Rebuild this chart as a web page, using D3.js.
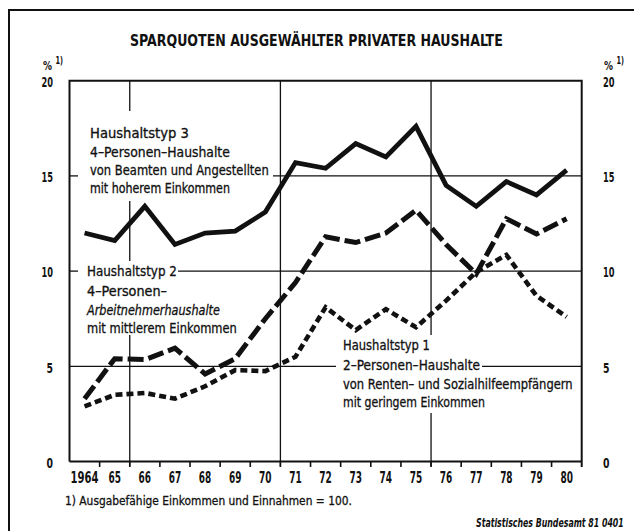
<!DOCTYPE html>
<html>
<head>
<meta charset="utf-8">
<script src="https://cdn.jsdelivr.net/npm/d3@7/dist/d3.min.js"></script>
<style>
  html, body { margin: 0; padding: 0; background: #fff; }
  svg { display: block; }
  text { fill: #111; }
</style>
</head>
<body>
<script>
// Sparquoten (savings ratios) of three household types, 1964–1980, in % of disposable income
const years = [1964,1965,1966,1967,1968,1969,1970,1971,1972,1973,1974,1975,1976,1977,1978,1979,1980];
const yearLabels = ["1964","65","66","67","68","69","70","71","72","73","74","75","76","77","78","79","80"];
const typ3 = [12.0,11.6,13.4,11.4,12.0,12.1,13.1,15.7,15.4,16.7,16.0,17.6,14.5,13.4,14.7,14.0,15.3];
const typ2 = [3.3,5.4,5.35,5.95,4.6,5.4,7.5,9.4,11.8,11.5,12.0,13.2,11.4,9.85,12.75,11.95,12.75];
const typ1 = [2.9,3.5,3.6,3.3,3.95,4.8,4.75,5.5,8.1,6.9,8.0,7.05,8.45,9.95,10.85,8.7,7.6];
const yTicks = [0,5,10,15,20];

const title = "SPARQUOTEN AUSGEWÄHLTER PRIVATER HAUSHALTE";
const labelTyp3 = ["Haushaltstyp 3","4–Personen–Haushalte","von Beamten und Angestellten","mit hoherem Einkommen"];
const labelTyp2 = ["Haushaltstyp 2","4–Personen–","Arbeitnehmerhaushalte","mit mittlerem  Einkommen"];
const labelTyp1 = ["Haushaltstyp 1","2–Personen–Haushalte","von Renten– und Sozialhilfeempfängern","mit geringem Einkommen"];
const footnote = "1) Ausgabefähige Einkommen und Einnahmen = 100.";
const source = "Statistisches Bundesamt 81 0401";

const W = 634, H = 531;
const FONT = "'Liberation Sans Narrow','DejaVu Sans Condensed','Roboto Condensed','Arial Narrow',sans-serif";
const INK = "#111";

const svg = d3.select("body").append("svg")
  .attr("width", W).attr("height", H)
  .style("font-family", FONT);

svg.append("rect").attr("width", W).attr("height", H).attr("fill", "#fff");

// plot frame
const L = 69.5, R = 581.7, T = 80.7, B = 461.5;

const x = d3.scaleBand().domain(years).range([L, R]).paddingInner(0).paddingOuter(0);
const y = d3.scaleLinear().domain([0, 20]).range([B, T]);
const cx = d => x(d) + x.bandwidth() / 2;

// slightly heavier print for text
const ink = sel => sel.attr("stroke", INK).attr("stroke-width", 0.3);

// squeeze a text horizontally to a given width (condensed type), keeping its anchor point
function fit(sel, widthFn) {
  sel.each(function (d, i) {
    const w = typeof widthFn === "function" ? widthFn(d, i) : widthFn;
    const n = this.getComputedTextLength();
    const base = this.getAttribute("transform") || "";
    this.setAttribute("transform", `${base} scale(${w / n},1)`);
  });
}

// place a text at (px, py) and condense it to width w
function label(str, px, py, w, size, opts = {}) {
  const t = svg.append("text")
    .attr("transform", `translate(${px},${py})`)
    .style("font-size", size + "px")
    .style("font-weight", opts.bold ? "bold" : "normal")
    .style("font-style", opts.italic ? "italic" : "normal")
    .text(str);
  if (opts.heavy) t.call(ink);
  fit(t, w);
  return t;
}

// page frame: left and top rules
svg.append("path")
  .attr("d", `M9,${H} V10 H${W}`)
  .attr("fill", "none").attr("stroke", INK).attr("stroke-width", 2);

// title
label(title, 130, 46, 373, 15, { bold: true });

// grid segments (interrupted where the series labels sit)
const grid = svg.append("g").attr("stroke", INK).attr("stroke-width", 1.3).attr("fill", "none");
const hSeg = [
  [15, L, 78], [15, 273, R],
  [10, L, 78], [10, 178, R],
  [5, L, 336], [5, 482, R]
];
hSeg.forEach(([v, x1, x2]) => {
  grid.append("line").attr("x1", x1).attr("x2", x2).attr("y1", y(v)).attr("y2", y(v));
});
const vSeg = [
  [1966, T, 111], [1966, 201, 261], [1966, 335, B + 5],
  [1971, T, B + 5],
  [1976, T, 335], [1976, 413, B + 5]
];
vSeg.forEach(([yr, y1, y2]) => {
  grid.append("line").attr("x1", x(yr)).attr("x2", x(yr)).attr("y1", y1).attr("y2", y2);
});

// x-axis boundary ticks between the years
svg.append("g").selectAll("line").data(years.slice(1))
  .join("line")
  .attr("x1", d => x(d)).attr("x2", d => x(d))
  .attr("y1", B).attr("y2", B + 5.5)
  .attr("stroke", INK).attr("stroke-width", 1.6);

// plot border
svg.append("path")
  .attr("d", `M${L},${B} V${T} H${R} V${B + 5.5}`)
  .attr("fill", "none").attr("stroke", INK).attr("stroke-width", 2);
svg.append("line")
  .attr("x1", L).attr("x2", R).attr("y1", B).attr("y2", B)
  .attr("stroke", INK).attr("stroke-width", 2);

// year labels
const xAxis = svg.append("g")
  .attr("transform", `translate(0,${B})`)
  .call(d3.axisBottom(x).tickSize(0).tickPadding(10).tickFormat((d, i) => yearLabels[i]));
xAxis.select(".domain").remove();
xAxis.selectAll("text")
  .style("font-family", FONT).style("font-size", "16.5px").style("font-weight", "bold")
  .attr("fill", INK)
  .call(fit, (d, i) => yearLabels[i].length === 4 ? 28 : 12.5);

// value labels, left and right
function styleValueLabels(g) {
  g.select(".domain").remove();
  g.selectAll("text")
    .style("font-family", FONT).style("font-size", "14px").style("font-weight", "bold")
    .attr("fill", INK).attr("dy", "0.42em")
    .call(fit, d => String(d).length === 2 ? 11.5 : 6.5);
}
svg.append("g")
  .attr("transform", "translate(53,0)")
  .call(d3.axisLeft(y).tickValues(yTicks).tickSize(0).tickPadding(0))
  .call(styleValueLabels);
svg.append("g")
  .attr("transform", "translate(603,0)")
  .call(d3.axisRight(y).tickValues(yTicks).tickSize(0).tickPadding(0))
  .call(styleValueLabels);

// unit marks above the axes
[[43, 70], [604, 70]].forEach(([px, py]) => {
  label("%", px, py, 9, 12, { bold: true });
  label("1)", px + 12.5, py - 6, 7.5, 10.5, { bold: true });
});

// series lines
const line = d3.line().x((d, i) => cx(years[i])).y(d => y(d));
const series = [
  { data: typ3, dash: null, width: 4.8 },
  { data: typ2, dash: "16,5", width: 5 },
  { data: typ1, dash: "7,4", width: 4.6 }
];
svg.append("g").selectAll("path").data(series)
  .join("path")
  .attr("d", d => line(d.data))
  .attr("fill", "none")
  .attr("stroke", INK)
  .attr("stroke-width", d => d.width)
  .attr("stroke-linejoin", "miter")
  .attr("stroke-linecap", "butt")
  .attr("stroke-dasharray", d => d.dash);

// series labels
function block(lines, x0, baselines, widths, italicIdx) {
  lines.forEach((s, i) => {
    label(s, x0, baselines[i], widths[i], 14, { italic: i === italicIdx, heavy: true });
  });
}
block(labelTyp3, 90, [138, 156.5, 175, 193], [99, 140, 179, 140], -1);
block(labelTyp2, 87, [276, 295.5, 314.5, 333], [90, 80, 133, 150], 2);
block(labelTyp1, 343, [350, 370, 388.5, 406.5], [87, 137, 230, 142], -1);

// footnote and source
label(footnote, 65, 505, 287, 13, { heavy: true });
label(source, 476, 527, 148, 12, { bold: true, italic: true });
</script>
</body>
</html>
